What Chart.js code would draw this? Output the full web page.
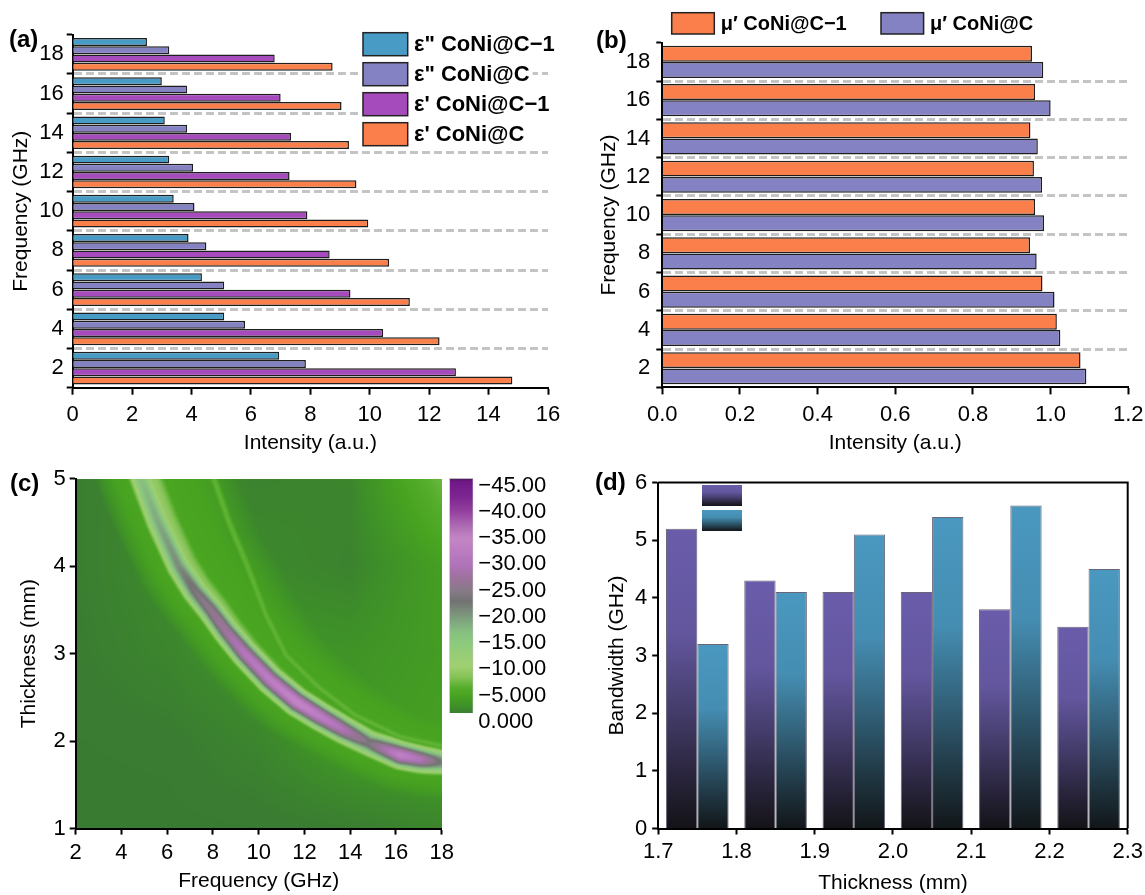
<!DOCTYPE html>
<html>
<head>
<meta charset="utf-8">
<title>CoNi@C electromagnetic parameters</title>
<script src="https://cdn.jsdelivr.net/npm/chart.js@4.4.1/dist/chart.umd.min.js"></script>
<style>
  body { margin: 0; background: #fff; }
  #page { position: relative; width: 1145px; height: 895px; overflow: hidden; font-family: 'Liberation Sans', Arial, sans-serif; }
  canvas { position: absolute; }
  .tag { position: absolute; font-weight: bold; font-size: 24px; line-height: 24px; }
</style>
</head>
<body>
<div id="page">
  <canvas id="chartA" width="580" height="460" style="left:0;top:0"></canvas>
  <canvas id="chartB" width="565" height="460" style="left:580px;top:0"></canvas>
  <canvas id="chartC" width="460" height="435" style="left:0;top:460px"></canvas>
  <canvas id="scaleC" width="120" height="270" style="left:445px;top:465px"></canvas>
  <canvas id="chartD" width="565" height="435" style="left:580px;top:460px"></canvas>
  <div class="tag" style="left:9px;top:27px">(a)</div>
  <div class="tag" style="left:596px;top:28px">(b)</div>
  <div class="tag" style="left:10px;top:471px">(c)</div>
  <div class="tag" style="left:595px;top:470px">(d)</div>
</div>
<script>
// (a) permittivity, categories top to bottom
const freqLabels = ['18', '16', '14', '12', '10', '8', '6', '4', '2'];
const epsImagC1 = [2.5, 3.0, 3.1, 3.25, 3.4, 3.9, 4.35, 5.1, 6.95];
const epsImagC = [3.25, 3.85, 3.85, 4.05, 4.1, 4.5, 5.1, 5.8, 7.85];
const epsRealC1 = [6.8, 7.0, 7.35, 7.3, 7.9, 8.65, 9.35, 10.45, 12.9];
const epsRealC = [8.75, 9.05, 9.3, 9.55, 9.95, 10.65, 11.35, 12.35, 14.8];

// (b) permeability
const muC1 = [0.952, 0.96, 0.948, 0.957, 0.96, 0.947, 0.979, 1.016, 1.077];
const muC = [0.981, 1.0, 0.967, 0.978, 0.983, 0.964, 1.01, 1.025, 1.092];

// (c) reflection loss map: absorption ridge, a faint side line and a coarse far field
const ridgeFreq = [4.55, 4.85, 5.6, 6.5, 7.2, 7.9, 8.6, 9.4, 10.5, 11.65, 12.7, 13.7, 14.8, 16.2, 17.1, 18.0, 18.6];
const ridgeThick = [5.25, 5.0, 4.5, 4.0, 3.72, 3.5, 3.25, 3.0, 2.7, 2.45, 2.28, 2.13, 1.98, 1.84, 1.79, 1.76, 1.74];
const ridgeRL = [-17, -17, -19, -21, -24, -26, -28, -31, -33, -35, -33, -30, -24, -34, -30, -22, -22];
const sideFreq = [7.9, 8.7, 9.5, 10.3, 11.2, 12.6, 14.2, 16.2, 18.3];
const sideThick = [5.1, 4.5, 4.0, 3.45, 2.98, 2.62, 2.3, 2.05, 1.93];
const sideRL = -7;
const baseFreq = [2, 6, 10, 14, 18];
const baseThick = [1, 2, 3, 4, 5];
const baseRL = [
  [-1.2, -1.2, -1.3, -1.6, -2.2],
  [-1.3, -1.4, -2.2, -4.0, -4.5],
  [-1.5, -2.2, -3.4, -3.3, -4.2],
  [-1.6, -2.6, -2.5, -2.0, -4.5],
  [-1.6, -2.4, -2.0, -2.2, -7.5]
];
const colorTicks = [-45, -40, -35, -30, -25, -20, -15, -10, -5, 0];

// (d) effective bandwidth
const thickGroups = [1.75, 1.85, 1.95, 2.05, 2.15, 2.25];
const bwPurple = [5.2, 4.3, 4.1, 4.1, 3.8, 3.5];
const bwBlue = [3.2, 4.1, 5.1, 5.4, 5.6, 4.5];

const FONT = "'Liberation Sans', Arial, sans-serif";
Chart.defaults.font.family = FONT;
Chart.defaults.color = '#000';
Chart.defaults.plugins.legend.display = false;
Chart.defaults.plugins.tooltip.enabled = false;

const C_BLUE = '#489bc5';
const C_LAV = '#8582c4';
const C_PURPLE = '#a64bbb';
const C_ORANGE = '#fa7f4a';

const tickFont = { size: 22 };
const titleFont = { size: 21 };

// boundary dashes between categories, not on the outer edges
const dashColor = c => (c.index === 0 || c.index === undefined) ? 'rgba(0,0,0,0)' : '#c4c4c4';

// let end labels hang over the plot edge instead of shrinking the plot
function xFit(h) {
  return s => { s.height = h; s.paddingLeft = 0; s.paddingRight = 0; };
}

// ---------- (a) ----------
const legendA = {
  id: 'legendA',
  afterDraw(chart) {
    const { ctx } = chart;
    ctx.save();
    ctx.font = `bold 22px ${FONT}`;
    ctx.textBaseline = 'middle';
    chart.data.datasets.forEach((ds, i) => {
      const y = 32.7 + i * 30;
      const tw = ctx.measureText(ds.label).width;
      ctx.fillStyle = '#fff';
      ctx.fillRect(361, y - 2, 414 + tw - 361 + 3, 27);
      ctx.fillStyle = ds.backgroundColor;
      ctx.fillRect(363, y, 44.7, 23);
      ctx.strokeStyle = '#222';
      ctx.lineWidth = 1.5;
      ctx.strokeRect(363, y, 44.7, 23);
      ctx.fillStyle = '#000';
      ctx.fillText(ds.label, 414, y + 12.5);
    });
    ctx.restore();
  }
};

new Chart(document.getElementById('chartA'), {
  type: 'bar',
  data: {
    labels: freqLabels,
    datasets: [
      { label: 'ε" CoNi@C\u22121', data: epsImagC1, backgroundColor: C_BLUE },
      { label: 'ε" CoNi@C', data: epsImagC, backgroundColor: C_LAV },
      { label: "ε' CoNi@C\u22121", data: epsRealC1, backgroundColor: C_PURPLE },
      { label: "ε' CoNi@C", data: epsRealC, backgroundColor: C_ORANGE }
    ]
  },
  options: {
    indexAxis: 'y',
    responsive: false,
    animation: false,
    layout: { padding: { left: 0, right: 32, top: 34.7, bottom: 0 } },
    datasets: { bar: { categoryPercentage: 0.84, barPercentage: 0.97, borderWidth: 1.5, borderColor: '#1e1e1e' } },
    scales: {
      x: {
        min: 0, max: 16,
        ticks: { stepSize: 2, font: tickFont, padding: 7 },
        grid: { drawOnChartArea: false, tickLength: 7, tickColor: '#000', tickWidth: 2 },
        border: { color: '#000', width: 2 },
        title: { display: true, text: 'Intensity (a.u.)', font: titleFont, padding: { top: 0, bottom: 4 } },
        afterFit: xFit(72.3)
      },
      y: {
        ticks: { font: tickFont, padding: 3 },
        grid: { offset: true, color: dashColor, lineWidth: 3, tickLength: 6, tickColor: '#000', tickWidth: 2 },
        border: { color: '#000', width: 2, dash: [8, 4] },
        title: { display: true, text: 'Frequency (GHz)', font: titleFont, padding: { top: 9, bottom: 0 } },
        afterFit: s => { s.width = 72.7; }
      }
    }
  },
  plugins: [legendA]
});

// ---------- (b) ----------
const legendB = {
  id: 'legendB',
  afterDraw(chart) {
    const { ctx } = chart;
    const spots = [91.7, 301];
    ctx.save();
    ctx.font = `bold 20px ${FONT}`;
    ctx.textBaseline = 'middle';
    chart.data.datasets.forEach((ds, i) => {
      const x = spots[i];
      ctx.fillStyle = ds.backgroundColor;
      ctx.fillRect(x, 12.7, 42.6, 21.3);
      ctx.strokeStyle = '#222';
      ctx.lineWidth = 1.5;
      ctx.strokeRect(x, 12.7, 42.6, 21.3);
      ctx.fillStyle = '#000';
      ctx.fillText(ds.label, x + 49, 24);
    });
    ctx.restore();
  }
};

new Chart(document.getElementById('chartB'), {
  type: 'bar',
  data: {
    labels: freqLabels,
    datasets: [
      { label: 'μ′ CoNi@C\u22121', data: muC1, backgroundColor: C_ORANGE },
      { label: 'μ′ CoNi@C', data: muC, backgroundColor: C_LAV }
    ]
  },
  options: {
    indexAxis: 'y',
    responsive: false,
    animation: false,
    layout: { padding: { left: 0, right: 16.7, top: 42.7, bottom: 0 } },
    datasets: { bar: { categoryPercentage: 0.85, barPercentage: 0.98, borderWidth: 1.5, borderColor: '#1e1e1e' } },
    scales: {
      x: {
        min: 0, max: 1.2,
        ticks: { stepSize: 0.2, font: tickFont, padding: 7, callback: v => v.toFixed(1) },
        grid: { drawOnChartArea: false, tickLength: 7, tickColor: '#000', tickWidth: 2 },
        border: { color: '#000', width: 2 },
        title: { display: true, text: 'Intensity (a.u.)', font: titleFont, padding: { top: 0, bottom: 4 } },
        afterFit: xFit(460 - 387.4)
      },
      y: {
        ticks: { font: tickFont, padding: 6 },
        grid: { offset: true, color: dashColor, lineWidth: 3, tickLength: 6, tickColor: '#000', tickWidth: 2 },
        border: { color: '#000', width: 2, dash: [8, 4] },
        title: { display: true, text: 'Frequency (GHz)', font: titleFont, padding: { top: 17, bottom: 0 } },
        afterFit: s => { s.width = 82.3; }
      }
    }
  },
  plugins: [legendB]
});

// ---------- (c) ----------
const cmap = [
  [-46.4, [70, 25, 80]], [-45.8, [112, 24, 136]], [-43, [124, 36, 144]], [-40, [149, 65, 159]],
  [-37, [176, 112, 181]], [-35, [195, 134, 196]], [-32, [185, 122, 192]], [-29.5, [173, 114, 181]],
  [-27, [154, 114, 152]], [-25, [136, 122, 136]], [-23, [114, 114, 114]], [-21, [122, 140, 122]],
  [-19, [128, 168, 128]], [-17, [136, 192, 128]], [-15, [140, 202, 124]], [-12.5, [153, 205, 118]],
  [-10.5, [160, 208, 112]], [-8.5, [132, 194, 86]], [-6.5, [86, 174, 44]], [-5, [72, 164, 32]],
  [-3, [62, 144, 40]], [-1.5, [58, 124, 50]], [0, [56, 120, 50]]
];

function colorFor(v) {
  if (v <= cmap[0][0]) return cmap[0][1];
  for (let i = 1; i < cmap.length; i++) {
    if (v <= cmap[i][0]) {
      const [v0, c0] = cmap[i - 1], [v1, c1] = cmap[i];
      const u = (v - v0) / (v1 - v0);
      return c0.map((c, k) => c + (c1[k] - c) * u);
    }
  }
  return cmap[cmap.length - 1][1];
}

function lerpArr(arr, t) {
  const i = Math.min(arr.length - 2, Math.floor(t));
  const u = t - i;
  return arr[i] * (1 - u) + arr[i + 1] * u;
}

function cell(arr, v) {
  let i = 0;
  while (i < arr.length - 2 && v > arr[i + 1]) i++;
  const u = (v - arr[i]) / (arr[i + 1] - arr[i]);
  return [i, Math.max(0, Math.min(1, u))];
}

function baseAt(f, d) {
  const [i, u] = cell(baseFreq, f);
  const [j, w] = cell(baseThick, d);
  const a = baseRL[j][i] * (1 - u) + baseRL[j][i + 1] * u;
  const b = baseRL[j + 1][i] * (1 - u) + baseRL[j + 1][i + 1] * u;
  return a * (1 - w) + b * w;
}

// nearest point on a pixel polyline; r > 0 on the upper-right side
function nearest(px, py, pts) {
  let best = Infinity, sign = 1, t = 0;
  for (let i = 0; i < pts.length - 1; i++) {
    const a = pts[i], b = pts[i + 1];
    const dx = b.x - a.x, dy = b.y - a.y;
    let u = ((px - a.x) * dx + (py - a.y) * dy) / (dx * dx + dy * dy);
    u = Math.max(0, Math.min(1, u));
    const cx = a.x + u * dx, cy = a.y + u * dy;
    const d2 = (px - cx) ** 2 + (py - cy) ** 2;
    if (d2 < best) {
      best = d2;
      t = i + u;
      sign = (dx * (py - a.y) - dy * (px - a.x)) < 0 ? 1 : -1;
    }
  }
  return { r: Math.sqrt(best) * sign, t };
}

function rlAt(f, d, px, py, ridge, side) {
  const base = baseAt(f, d);
  const m = nearest(px, py, ridge);
  const s = m.t / (ridge.length - 1);
  const r = m.r;
  const core = lerpArr(ridgeRL, m.t) * Math.exp(-((r / 12) ** 2));
  let wide, band;
  if (r > 0) {
    wide = -10 * Math.exp(-((r / (26 - 12 * s)) ** 4));
    band = -5.2 * Math.exp(-((r / (100 - 40 * s)) ** 4));
  } else {
    wide = 0;
    band = -5.2 * Math.exp(-((r / 44) ** 4));
  }
  const n2 = nearest(px, py, side);
  const line2 = sideRL * Math.exp(-((n2.r / 6) ** 2));
  return Math.min(base, core, wide, band, line2);
}

const heatPlugin = {
  id: 'heat',
  beforeDraw(chart) {
    const { ctx, chartArea: a, scales: { x, y } } = chart;
    const w = Math.round(a.right - a.left), h = Math.round(a.bottom - a.top);
    const off = document.createElement('canvas');
    off.width = w; off.height = h;
    const octx = off.getContext('2d');
    const img = octx.createImageData(w, h);
    const toPx = (fs, ds) => fs.map((f, i) => ({ x: x.getPixelForValue(f), y: y.getPixelForValue(ds[i]) }));
    const ridge = toPx(ridgeFreq, ridgeThick);
    const side = toPx(sideFreq, sideThick);
    for (let j = 0; j < h; j++) {
      for (let i = 0; i < w; i++) {
        const px = a.left + i + 0.5, py = a.top + j + 0.5;
        const v = rlAt(x.getValueForPixel(px), y.getValueForPixel(py), px, py, ridge, side);
        const c = colorFor(v);
        const k = (j * w + i) * 4;
        img.data[k] = c[0]; img.data[k + 1] = c[1]; img.data[k + 2] = c[2]; img.data[k + 3] = 255;
      }
    }
    octx.putImageData(img, 0, 0);
    ctx.drawImage(off, a.left, a.top, a.right - a.left, a.bottom - a.top);
  }
};

new Chart(document.getElementById('chartC'), {
  type: 'scatter',
  data: { datasets: [] },
  options: {
    responsive: false,
    animation: false,
    layout: { padding: { left: 0, right: 460 - 441.7, top: 18.6, bottom: 0 } },
    scales: {
      x: {
        type: 'linear', min: 2, max: 18,
        ticks: { stepSize: 2, font: tickFont, padding: 5 },
        grid: { drawOnChartArea: false, tickLength: 6, tickColor: '#000', tickWidth: 2 },
        border: { color: '#000', width: 2 },
        title: { display: true, text: 'Frequency (GHz)', font: titleFont, padding: { top: 0, bottom: 1 } },
        afterFit: xFit(435 - 368.6)
      },
      y: {
        type: 'linear', min: 1, max: 5,
        ticks: { stepSize: 1, font: tickFont, padding: 4 },
        grid: { drawOnChartArea: false, tickLength: 6, tickColor: '#000', tickWidth: 2 },
        border: { color: '#000', width: 2 },
        title: { display: true, text: 'Thickness (mm)', font: titleFont, padding: { top: 17, bottom: 0 } },
        afterFit: s => { s.width = 75.7; }
      }
    }
  },
  plugins: [heatPlugin]
});

// colour scale of (c)
function scaleFill(c) {
  const { chart } = c;
  const ys = chart.scales.y;
  if (!ys || !chart.chartArea) return '#888';
  const top = ys.getPixelForValue(-47), bot = ys.getPixelForValue(1);
  if (!isFinite(top) || !isFinite(bot) || top === bot) return '#888';
  const g = chart.ctx.createLinearGradient(0, top, 0, bot);
  cmap.forEach(([v, col]) => {
    const p = (ys.getPixelForValue(v) - top) / (bot - top);
    g.addColorStop(Math.max(0, Math.min(1, p)), `rgb(${col.map(Math.round).join(',')})`);
  });
  return g;
}

new Chart(document.getElementById('scaleC'), {
  type: 'bar',
  data: { labels: [''], datasets: [{ data: [[-46.4, -1.66]], backgroundColor: scaleFill, borderWidth: 1, borderColor: 'rgba(120,120,120,0.5)' }] },
  options: {
    responsive: false,
    animation: false,
    layout: { padding: { left: 4.3, right: 0, top: 10.2, bottom: 8.1 } },
    datasets: { bar: { categoryPercentage: 1, barPercentage: 1 } },
    scales: {
      x: { display: false },
      y: {
        position: 'right', reverse: true, min: -47, max: 1,
        afterBuildTicks: s => { s.ticks = colorTicks.map(v => ({ value: v })); },
        ticks: {
          font: tickFont, padding: 5, autoSkip: false,
          callback: v => v === 0 ? '0.000' : '\u2212' + Math.abs(v).toFixed(Math.abs(v) >= 10 ? 2 : 3)
        },
        grid: { display: false, drawTicks: false },
        border: { display: false },
        afterFit: s => { s.width = 120 - 28.3; s.paddingTop = 0; s.paddingBottom = 0; }
      }
    }
  }
});

// ---------- (d) ----------
const PURPLE_TOP = [106, 92, 170];
const BLUE_TOP = [74, 152, 192];

function shade(ctx, y0, y1, rgb) {
  const g = ctx.createLinearGradient(0, y0, 0, y1);
  const mix = k => `rgb(${rgb.map(v => Math.round(v * k + 14 * (1 - k))).join(',')})`;
  g.addColorStop(0, mix(1));
  g.addColorStop(0.35, mix(0.92));
  g.addColorStop(0.6, mix(0.6));
  g.addColorStop(0.82, mix(0.3));
  g.addColorStop(1, mix(0.06));
  return g;
}

function barFill(rgb) {
  return c => {
    const { chart } = c;
    const ys = chart.scales.y;
    const flat = `rgb(${rgb.join(',')})`;
    if (!ys || !chart.chartArea || !c.parsed) return flat;
    const y0 = ys.getPixelForValue(c.parsed.y), y1 = ys.getPixelForValue(0);
    if (!isFinite(y0) || !isFinite(y1) || y0 === y1) return flat;
    return shade(chart.ctx, y0, y1, rgb);
  };
}

const frameD = {
  id: 'frameD',
  afterDraw(chart) {
    const { ctx, chartArea: a } = chart;
    ctx.save();
    ctx.strokeStyle = '#000';
    ctx.lineWidth = 2;
    ctx.beginPath();
    ctx.moveTo(a.left, a.top);
    ctx.lineTo(a.right, a.top);
    ctx.lineTo(a.right, a.bottom);
    ctx.stroke();
    // legend swatches, no text
    [PURPLE_TOP, BLUE_TOP].forEach((rgb, i) => {
      const y = 25 + i * 25;
      ctx.fillStyle = shade(ctx, y, y + 21, rgb);
      ctx.fillRect(122, y, 40, 21);
    });
    ctx.restore();
  }
};

new Chart(document.getElementById('chartD'), {
  type: 'bar',
  data: {
    datasets: [
      { data: thickGroups.map((t, i) => ({ x: t, y: bwPurple[i] })), backgroundColor: barFill(PURPLE_TOP) },
      { data: thickGroups.map((t, i) => ({ x: t, y: bwBlue[i] })), backgroundColor: barFill(BLUE_TOP) }
    ]
  },
  options: {
    responsive: false,
    animation: false,
    layout: { padding: { left: 0, right: 17.3, top: 22.5, bottom: 0 } },
    datasets: { bar: { categoryPercentage: 0.8, barPercentage: 1, borderWidth: 1, borderColor: 'rgba(40,36,60,0.7)' } },
    scales: {
      x: {
        type: 'linear', min: 1.7, max: 2.3, offset: false,
        ticks: { stepSize: 0.1, font: tickFont, padding: 4, callback: v => v.toFixed(1) },
        grid: { offset: false, drawOnChartArea: false, tickLength: 6, tickColor: '#000', tickWidth: 2 },
        border: { color: '#000', width: 2 },
        title: { display: true, text: 'Thickness (mm)', font: { size: 21, lineHeight: 1.1 }, padding: { top: 0, bottom: 0 } },
        afterFit: xFit(435 - 368.5)
      },
      y: {
        min: 0, max: 6,
        ticks: { stepSize: 1, font: tickFont, padding: 5 },
        grid: { drawOnChartArea: false, tickLength: 6, tickColor: '#000', tickWidth: 2 },
        border: { color: '#000', width: 2 },
        title: { display: true, text: 'Bandwidth (GHz)', font: titleFont, padding: { top: 25, bottom: 0 } },
        afterFit: s => { s.width = 78.2; }
      }
    }
  },
  plugins: [frameD]
});
</script>
</body>
</html>
